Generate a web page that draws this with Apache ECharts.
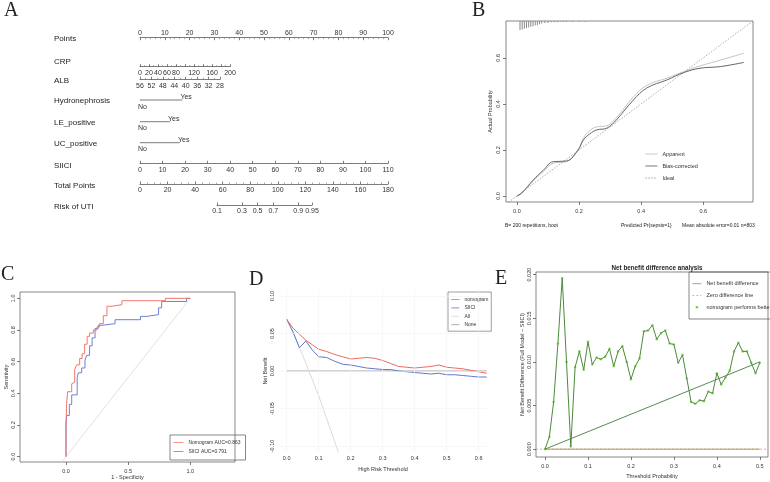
<!DOCTYPE html>
<html>
<head>
<meta charset="utf-8">
<title>nomogram panels</title>
<script src="https://cdn.jsdelivr.net/npm/echarts@6/dist/echarts.min.js"></script>
<style>
  html, body { margin: 0; padding: 0; background: #fff; }
  #chart { width: 770px; height: 482px; }
</style>
</head>
<body>
<div id="chart"></div>
<script>
// ---------------- data ----------------
// A: nomogram
var rowNames = ['Points', 'CRP', 'ALB', 'Hydronephrosis', 'LE_positive', 'UC_positive', 'SIICI', 'Total Points', 'Risk of UTI']
var crpLabels = [0, 20, 40, 60, 80, 120, 160, 200]
var binNames = ['Hydronephrosis', 'LE_positive', 'UC_positive']
var binLevels = ['No', 'Yes']
var binYesPoints = [17, 12, 16]
var riskLabels = [0.1, 0.3, 0.5, 0.7, 0.9, 0.95]

// B: calibration
var calTicks = [0, 0.2, 0.4, 0.6]
var calX = [0, 0.015, 0.053, 0.085, 0.117, 0.16, 0.197, 0.214, 0.235, 0.257, 0.29, 0.32, 0.375, 0.418, 0.483, 0.537, 0.59, 0.655, 0.73]
var biasY = [0, 0.012, 0.07, 0.112, 0.149, 0.152, 0.2, 0.243, 0.27, 0.287, 0.295, 0.33, 0.417, 0.469, 0.504, 0.536, 0.555, 0.562, 0.58]
var apparentY = [0, 0.012, 0.066, 0.106, 0.142, 0.15, 0.2, 0.25, 0.285, 0.3, 0.305, 0.34, 0.43, 0.48, 0.512, 0.54, 0.565, 0.59, 0.62]
var idealX = [-0.035, 0.76]
var rugX = [0.01, 0.017, 0.024, 0.031, 0.038, 0.045, 0.052, 0.059, 0.066, 0.073, 0.08, 0.09, 0.1, 0.11, 0.12, 0.13, 0.14, 0.15, 0.16, 0.18, 0.2, 0.22]
var rugN = [14, 13, 12, 11, 10, 9, 8, 7, 6, 5, 4, 3, 3, 2, 2, 2, 1, 1, 1, 1, 1, 1]

// C: ROC
var rocXTicks = [0, 0.5, 1]
var rocYTicks = [0, 0.2, 0.4, 0.6, 0.8, 1]
var rocNomo = [[0, 0], [0.005, 0.2], [0.013, 0.33], [0.024, 0.41], [0.046, 0.41], [0.055, 0.46], [0.07, 0.47], [0.086, 0.55], [0.11, 0.58], [0.13, 0.62], [0.15, 0.65], [0.17, 0.71], [0.19, 0.76], [0.22, 0.78], [0.25, 0.8], [0.27, 0.82], [0.3, 0.84], [0.33, 0.89], [0.37, 0.95], [0.45, 0.96], [0.54, 0.985], [0.8, 0.985], [0.81, 1], [1, 1]]
var rocSiici = [[0, 0], [0.005, 0.2], [0.027, 0.26], [0.046, 0.33], [0.065, 0.39], [0.09, 0.39], [0.1, 0.5], [0.126, 0.53], [0.153, 0.56], [0.167, 0.61], [0.19, 0.64], [0.21, 0.7], [0.234, 0.75], [0.26, 0.81], [0.29, 0.83], [0.395, 0.84], [0.6, 0.865], [0.65, 0.886], [0.745, 0.897], [0.77, 0.94], [0.81, 0.98], [0.97, 0.98], [1, 1]]
var rocDiag = [-0.03, 1]

// D: decision curve
var dcaXTicks = [0, 0.1, 0.2, 0.3, 0.4, 0.5, 0.6]
var dcaYTicks = [-0.1, -0.05, 0, 0.05, 0.1]
var dcaX = [0, 0.02, 0.04, 0.06, 0.08, 0.1, 0.125, 0.15, 0.175, 0.2, 0.225, 0.25, 0.275, 0.3, 0.325, 0.35, 0.375, 0.4, 0.425, 0.45, 0.475, 0.5, 0.525, 0.55, 0.575, 0.6, 0.625]
var dcaNomo = [0.069, 0.057, 0.049, 0.041, 0.035, 0.029, 0.026, 0.022, 0.019, 0.016, 0.017, 0.018, 0.017, 0.014, 0.01, 0.006, 0.005, 0.004, 0.005, 0.006, 0.008, 0.005, 0.004, 0.003, 0.001, -0.001, -0.003]
var dcaSiici = [0.069, 0.052, 0.031, 0.04, 0.028, 0.019, 0.018, 0.013, 0.009, 0.008, 0.006, 0.004, 0.003, 0.002, 0.002, 0, -0.001, -0.002, -0.003, -0.004, -0.003, -0.005, -0.005, -0.006, -0.007, -0.008, -0.008]
var allX = [0, 0.05, 0.1, 0.15, 0.17]
var allY = [0.07, 0.021, -0.033, -0.094, -0.12]
var noneX = [0, 0.626]

// E: net benefit difference
var diffXTicks = [0, 0.1, 0.2, 0.3, 0.4, 0.5]
var diffYTicks = [0, 0.005, 0.01, 0.015, 0.02]
var diffX = [0, 0.01, 0.02, 0.03, 0.04, 0.05, 0.06, 0.07, 0.08, 0.09, 0.1, 0.11, 0.12, 0.13, 0.14, 0.15, 0.16, 0.17, 0.18, 0.19, 0.2, 0.21, 0.22, 0.23, 0.24, 0.25, 0.26, 0.27, 0.28, 0.29, 0.3, 0.31, 0.32, 0.33, 0.34, 0.35, 0.36, 0.37, 0.38, 0.39, 0.4, 0.41, 0.42, 0.43, 0.44, 0.45, 0.46, 0.47, 0.48, 0.49, 0.5]
var diffY = [0, 0.0014, 0.0054, 0.0121, 0.0196, 0.01, 0.0003, 0.0094, 0.0112, 0.0091, 0.0123, 0.0097, 0.0105, 0.0103, 0.0106, 0.0115, 0.0095, 0.0112, 0.0118, 0.01, 0.008, 0.0095, 0.0104, 0.0135, 0.0136, 0.0142, 0.0126, 0.0133, 0.0136, 0.0121, 0.012, 0.0099, 0.0108, 0.0081, 0.0054, 0.0052, 0.0056, 0.0055, 0.0066, 0.0064, 0.0087, 0.0074, 0.0082, 0.009, 0.0112, 0.0122, 0.0112, 0.0112, 0.0099, 0.0087, 0.0099]
var trendX = [0, 0.5]
var trendY = [0, 0.01]
var zeroX = [-0.021, 0.519]

// ---------------- build ----------------
var FONT = 'Liberation Sans'
var SERIF = 'Liberation Serif'
var chart = echarts.init(document.getElementById('chart'))

var grids = [], xAxis = [], yAxis = [], series = [], graphic = [], legends = []

function f1(v) { return v.toFixed(1) }
function f2(v) { return v.toFixed(2) }
function f3(v) { return v.toFixed(3) }
function logit(p) { return Math.log(p / (1 - p)) }
function pairs(xs, ys) { return xs.map(function (x, i) { return [x, ys[i]] }) }

function addText(str, x, y, size, opt) {
  opt = opt || {}
  graphic.push({
    type: 'text', x: x, y: y, rotation: opt.rotation || 0, silent: true,
    style: {
      text: str, fill: opt.color || '#222', align: opt.align || 'left', verticalAlign: 'middle',
      font: (opt.weight || 'normal') + ' ' + size + 'px "' + (opt.family || FONT) + '"'
    }
  })
}

// ---- A: nomogram ----
var ptsLeft = 140, ptsWidth = 248
var rowY = [37.7, 66.7, 79.3, 100, 121.7, 142.7, 163.3, 184, 205]
var labelY = [39, 62, 81, 101, 122.7, 143.3, 165.5, 185.5, 207]

function nomoRow(left, width, y, top, ax) {
  var gi = grids.length
  grids.push({left: left, width: width, top: top ? y : y - 1, height: 1})
  xAxis.push({
    gridIndex: gi, type: 'value', position: top ? 'top' : 'bottom',
    min: ax.min, max: ax.max, interval: ax.interval, inverse: !!ax.inverse,
    axisLine: {onZero: false, lineStyle: {color: '#444', width: 0.7}},
    axisTick: {inside: true, length: 2.5, customValues: ax.ticks, lineStyle: {color: '#444', width: 0.7}},
    minorTick: {show: !!ax.minor, splitNumber: ax.minor || 5, length: 1.5, lineStyle: {color: '#777', width: 0.6}},
    axisLabel: {fontSize: 7, color: '#333', fontFamily: FONT, margin: top ? 1 : 3, customValues: ax.labels, formatter: ax.fmt, showMinLabel: true, showMaxLabel: true},
    splitLine: {show: false}
  })
  yAxis.push({gridIndex: gi, type: 'value', show: false, min: 0, max: 1})
}

nomoRow(ptsLeft, ptsWidth, rowY[0], true, {min: 0, max: 100, interval: 10, minor: 5})
nomoRow(ptsLeft, 90, rowY[1], false, {min: 0, max: 200, interval: 20, minor: 2, labels: crpLabels})
nomoRow(ptsLeft, 80, rowY[2], false, {min: 28, max: 56, interval: 4, minor: 2, inverse: true})
nomoRow(ptsLeft, ptsWidth, rowY[6], false, {min: 0, max: 110, interval: 10})
nomoRow(ptsLeft, ptsWidth, rowY[7], false, {min: 0, max: 180, interval: 20, minor: 4})
var riskVals = riskLabels.map(logit)
nomoRow(217, 95, rowY[8], false, {
  min: riskVals[0], max: riskVals[riskVals.length - 1], ticks: riskVals, labels: riskVals,
  fmt: function (v) { var p = 1 / (1 + Math.exp(-v)); return String(Math.round(p * 100) / 100) }
})

binNames.forEach(function (nm, i) {
  var y = rowY[3 + i]
  var gi = grids.length
  grids.push({left: ptsLeft, width: ptsWidth, top: y - 5, height: 10})
  xAxis.push({gridIndex: gi, type: 'value', min: 0, max: 100, show: false})
  yAxis.push({gridIndex: gi, type: 'value', min: -1, max: 1, show: false})
  series.push({
    type: 'line', xAxisIndex: gi, yAxisIndex: gi, silent: true,
    symbol: 'circle', symbolSize: 0.5, itemStyle: {color: '#444'},
    lineStyle: {color: '#444', width: 0.7},
    label: {fontSize: 7, color: '#333', fontFamily: FONT},
    data: [
      {value: [0, 0], label: {show: true, position: 'bottom', distance: 3, offset: [2.5, 0], formatter: binLevels[0]}},
      {value: [binYesPoints[i], 0], label: {show: true, position: 'top', distance: 0, offset: [4, 1], formatter: binLevels[1]}}
    ]
  })
})

rowNames.forEach(function (nm, i) { addText(nm, 54, labelY[i], 8) })

// generic R-like box axis
function boxAxis(gi, o) {
  return {
    gridIndex: gi, type: 'value', min: o.min, max: o.max,
    axisLine: {show: false, onZero: false},
    axisTick: {show: true, customValues: o.ticks, length: 3, lineStyle: {color: '#444', width: 0.7}},
    axisLabel: {customValues: o.ticks, formatter: o.fmt, rotate: o.rotate || 0, fontSize: 5.5, color: '#333', fontFamily: FONT, margin: o.margin || 5, showMinLabel: true, showMaxLabel: true},
    splitLine: {show: false},
    name: o.name, nameLocation: 'middle', nameGap: o.nameGap, nameRotate: o.nameRotate,
    nameTextStyle: {fontSize: 5.5, color: '#333', fontFamily: FONT}
  }
}
// legend icons: thin line only, hide the symbol line series add by default
var legendText = {fontSize: 5.5, color: '#333', fontFamily: FONT}
var noSymbol = {opacity: 0}
var thinLine = {width: 0.8}

// ---- B: calibration ----
var gB = grids.length
grids.push({left: 506, top: 21, width: 247, height: 181, show: true, borderColor: '#555', borderWidth: 0.7})
var xB = xAxis.length
xAxis.push(boxAxis(gB, {min: -0.035, max: 0.76, ticks: calTicks, fmt: f1, margin: 6}))
var yB = yAxis.length
yAxis.push(boxAxis(gB, {min: -0.026, max: 0.76, ticks: calTicks, fmt: f1, rotate: 90, margin: 5, name: 'Actual Probability', nameGap: 13}))
var yBrug = yAxis.length
yAxis.push({gridIndex: gB, type: 'value', show: false, inverse: true, min: 0, max: 280})
series.push({name: 'Ideal', type: 'line', xAxisIndex: xB, yAxisIndex: yB, symbol: 'none', silent: true,
  itemStyle: {color: '#8a8a8a'}, lineStyle: {color: '#8a8a8a', width: 0.7, type: [1.5, 1.5]}, data: pairs(idealX, idealX)})
series.push({name: 'Apparent', type: 'line', xAxisIndex: xB, yAxisIndex: yB, symbol: 'none', smooth: 0.4, silent: true,
  itemStyle: {color: '#bdbdbd'}, lineStyle: {color: '#bdbdbd', width: 0.9}, data: pairs(calX, apparentY)})
series.push({name: 'Bias-corrected', type: 'line', xAxisIndex: xB, yAxisIndex: yB, symbol: 'none', smooth: 0.4, silent: true,
  itemStyle: {color: '#555'}, lineStyle: {color: '#555', width: 0.9}, data: pairs(calX, biasY)})
series.push({type: 'bar', xAxisIndex: xB, yAxisIndex: yBrug, barWidth: 0.6, silent: true,
  itemStyle: {color: '#8a8a8a'}, data: pairs(rugX, rugN)})
legends.push({left: 645, top: 151, orient: 'vertical', itemWidth: 12, itemHeight: 6, itemGap: 6, padding: 0,
  selectedMode: false, itemStyle: noSymbol, lineStyle: thinLine, textStyle: legendText, data: ['Apparent', 'Bias-corrected', 'Ideal']})
addText('B= 200 repetitions, boot', 505, 226, 5)
addText('Predicted Pr{sepsis=1}', 621, 226, 5)
addText('Mean absolute error=0.01 n=803', 682, 226, 5)

// ---- C: ROC ----
var gC = grids.length
grids.push({left: 20, top: 292, width: 215, height: 170, show: true, borderColor: '#555', borderWidth: 0.7})
var xC = xAxis.length
xAxis.push(boxAxis(gC, {min: -0.37, max: 1.36, ticks: rocXTicks, fmt: f1, margin: 6, name: '1 - Specificity', nameGap: 11}))
var yC = yAxis.length
yAxis.push(boxAxis(gC, {min: -0.034, max: 1.04, ticks: rocYTicks, fmt: f1, rotate: 90, margin: 4, name: 'Sensitivity', nameGap: 9}))
series.push({type: 'line', xAxisIndex: xC, yAxisIndex: yC, symbol: 'none', silent: true,
  lineStyle: {color: '#d9d9d9', width: 0.8}, data: pairs(rocDiag, rocDiag)})
series.push({name: 'SIICI AUC=0.791', type: 'line', xAxisIndex: xC, yAxisIndex: yC, symbol: 'none', step: 'start', silent: true,
  lineStyle: {color: '#6f80d6', width: 1}, itemStyle: {color: '#6f80d6'}, data: rocSiici})
series.push({name: 'Nomogram AUC=0.863', type: 'line', xAxisIndex: xC, yAxisIndex: yC, symbol: 'none', step: 'start', silent: true,
  lineStyle: {color: '#f4766b', width: 1}, itemStyle: {color: '#f4766b'}, data: rocNomo})
legends.push({left: 170, top: 435, orient: 'vertical', itemWidth: 10, itemHeight: 5, itemGap: 4, padding: [5, 5, 6, 3],
  borderColor: '#555', borderWidth: 0.7, selectedMode: false, itemStyle: noSymbol, lineStyle: thinLine,
  textStyle: {fontSize: 5, color: '#333', fontFamily: FONT}, data: ['Nomogram AUC=0.863', 'SIICI AUC=0.791']})

// ---- D: decision curve ----
var gD = grids.length
grids.push({left: 279, top: 290, width: 208, height: 162})
var xD = xAxis.length
xAxis.push(boxAxis(gD, {min: -0.024, max: 0.626, ticks: dcaXTicks, fmt: f1, margin: 3, name: 'High Risk Threshold', nameGap: 14}))
var yD = yAxis.length
yAxis.push(boxAxis(gD, {min: -0.108, max: 0.108, ticks: dcaYTicks, fmt: f2, rotate: 90, margin: 4, name: 'Net Benefit', nameGap: 11}))
xAxis[xD].axisTick.show = false
yAxis[yD].axisTick.show = false
series.push({name: 'None', type: 'line', xAxisIndex: xD, yAxisIndex: yD, symbol: 'none', silent: true,
  lineStyle: {color: '#9a9a9a', width: 0.9}, itemStyle: {color: '#9a9a9a'}, data: pairs(noneX, [0, 0]),
  markLine: {silent: true, symbol: 'none', label: {show: false}, lineStyle: {color: '#f1f1f1', width: 0.6, type: 'solid'},
    data: dcaXTicks.map(function (v) { return {xAxis: v} }).concat(dcaYTicks.map(function (v) { return {yAxis: v} }))}})
series.push({name: 'All', type: 'line', xAxisIndex: xD, yAxisIndex: yD, symbol: 'none', silent: true,
  lineStyle: {color: '#d6d6d6', width: 0.9}, itemStyle: {color: '#d6d6d6'}, data: pairs(allX, allY)})
series.push({name: 'SIICI', type: 'line', xAxisIndex: xD, yAxisIndex: yD, symbol: 'none', silent: true,
  lineStyle: {color: '#6377d0', width: 1}, itemStyle: {color: '#6377d0'}, data: pairs(dcaX, dcaSiici)})
series.push({name: 'nomogram', type: 'line', xAxisIndex: xD, yAxisIndex: yD, symbol: 'none', silent: true,
  lineStyle: {color: '#f4665c', width: 1}, itemStyle: {color: '#f4665c'}, data: pairs(dcaX, dcaNomo)})
legends.push({left: 448, top: 292, orient: 'vertical', itemWidth: 8, itemHeight: 5, itemGap: 3.4, padding: [5, 3, 4, 3],
  borderColor: '#777', borderWidth: 0.7, selectedMode: false, itemStyle: noSymbol, lineStyle: thinLine,
  textStyle: {fontSize: 5, color: '#333', fontFamily: FONT}, data: ['nomogram', 'SIICI', 'All', 'None']})

// ---- E: net benefit difference ----
var gE = grids.length
grids.push({left: 536, top: 272, width: 232, height: 185, show: true, borderColor: '#555', borderWidth: 0.7})
var xE = xAxis.length
xAxis.push(boxAxis(gE, {min: -0.021, max: 0.519, ticks: diffXTicks, fmt: f1, margin: 6, name: 'Threshold Probability', nameGap: 16}))
var yE = yAxis.length
yAxis.push(boxAxis(gE, {min: -0.0009, max: 0.0203, ticks: diffYTicks, fmt: f3, rotate: 90, margin: 4, name: 'Net Benefit Difference (Full Model \u2212 SIICI)', nameGap: 10}))
series.push({name: 'Zero difference line', type: 'line', xAxisIndex: xE, yAxisIndex: yE, symbol: 'none', silent: true,
  lineStyle: {color: '#f08a8a', width: 0.8, type: [2, 2]}, itemStyle: {color: '#f08a8a'}, data: pairs(zeroX, [0, 0])})
series.push({type: 'line', xAxisIndex: xE, yAxisIndex: yE, symbol: 'none', silent: true,
  lineStyle: {color: '#a6a25a', width: 1}, data: pairs(trendX, [0, 0])})
series.push({type: 'line', xAxisIndex: xE, yAxisIndex: yE, symbol: 'none', silent: true,
  lineStyle: {color: '#3f8040', width: 0.9}, data: pairs(trendX, trendY)})
series.push({name: 'Net benefit difference', type: 'line', xAxisIndex: xE, yAxisIndex: yE, symbol: 'none', silent: true,
  lineStyle: {color: '#4c8a3c', width: 1}, itemStyle: {color: '#4c8a3c'}, data: pairs(diffX, diffY)})
series.push({name: 'nomogram performs better', type: 'scatter', xAxisIndex: xE, yAxisIndex: yE, symbolSize: 2.6, silent: true,
  itemStyle: {color: '#7ccf3a'}, data: pairs(diffX, diffY)})
legends.push({left: 689, top: 272, orient: 'vertical', itemWidth: 9, itemHeight: 2.6, itemGap: 5.8, padding: [8.7, 12, 8.7, 3],
  borderColor: '#555', borderWidth: 0.7, selectedMode: false, itemStyle: noSymbol, lineStyle: thinLine, textStyle: legendText,
  data: [{name: 'Net benefit difference', lineStyle: {color: '#8a8a8a'}},
    'Zero difference line',
    {name: 'nomogram performs better', itemStyle: {opacity: 1, color: '#7ccf3a'}}]})
addText('Net benefit difference analysis', 657, 268, 6.3, {align: 'center', weight: 'bold'})

// panel letters
addText('A', 4, 11, 20, {family: SERIF})
addText('B', 472, 11, 20, {family: SERIF})
addText('C', 1, 275, 20, {family: SERIF})
addText('D', 249, 280, 20, {family: SERIF})
addText('E', 495, 279, 20, {family: SERIF})

chart.setOption({
  animation: false,
  backgroundColor: '#fff',
  textStyle: {fontFamily: FONT},
  grid: grids,
  xAxis: xAxis,
  yAxis: yAxis,
  legend: legends,
  series: series,
  graphic: graphic
})
</script>
</body>
</html>
